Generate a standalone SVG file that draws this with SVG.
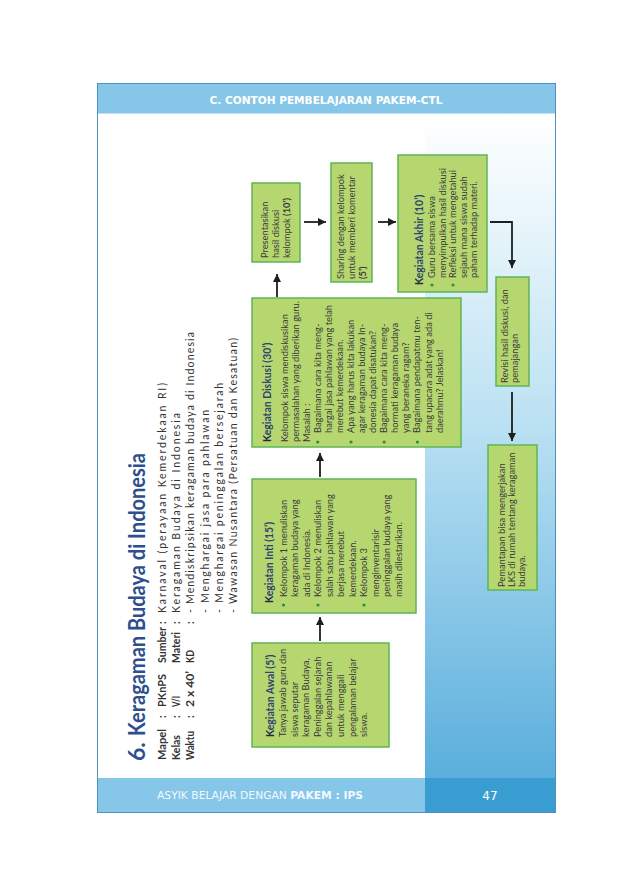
<svg xmlns="http://www.w3.org/2000/svg" width="638" height="896" viewBox="0 0 638 896">
<defs>
<linearGradient id="blueGrad" x1="0" y1="0" x2="0" y2="1">
<stop offset="0" stop-color="#ffffff"/>
<stop offset="0.15" stop-color="#eaf6fb"/>
<stop offset="0.45" stop-color="#bde2f3"/>
<stop offset="1" stop-color="#5aaedc"/>
</linearGradient>
<marker id="arr" markerUnits="userSpaceOnUse" markerWidth="9" markerHeight="8" refX="8" refY="4" orient="auto">
<path d="M0,0 L8,4 L0,8 z" fill="#1e1e1e"/>
</marker>
<style>
.box{fill:#b6d770;stroke:#5fb556;stroke-width:1.5}
.t{font-family:Lato,"Liberation Sans",sans-serif;font-size:9.3px;fill:#3a3a3a}
.h{font-family:Lato,"Liberation Sans",sans-serif;font-size:10.4px;font-weight:bold;fill:#2f4470}
.hk{fill:#1d2a4a}
.b{font-weight:bold}
.dot{fill:#2f8f3c}
.info{font-family:Lato,"Liberation Sans",sans-serif;font-size:10.5px;fill:#333333}
.lab{font-weight:bold}
.title{font-family:Lato,"Liberation Sans",sans-serif;font-size:23px;font-weight:bold;fill:#2d4f8e}
.con{stroke:#1e1e1e;stroke-width:1.8;fill:none;marker-end:url(#arr)}
</style>
</defs>
<rect x="0" y="0" width="638" height="896" fill="#ffffff"/>
<g id="page">
<rect x="425" y="115" width="131" height="663" fill="url(#blueGrad)"/>
<rect x="97.5" y="83.5" width="458" height="30" fill="#86c6e8"/>
<text x="326" y="104" text-anchor="middle" font-family="'DejaVu Sans',sans-serif" font-size="10" font-weight="bold" fill="#ffffff" textLength="233" lengthAdjust="spacingAndGlyphs">C. CONTOH PEMBELAJARAN PAKEM-CTL</text>
<rect x="97.5" y="778" width="328" height="34.5" fill="#86c6e8"/>
<rect x="425" y="778" width="131" height="34.5" fill="#3a9dd2"/>
<text x="260" y="799" text-anchor="middle" font-family="'DejaVu Sans',sans-serif" font-size="10" fill="#f2f9ff" textLength="206" lengthAdjust="spacingAndGlyphs">ASYIK BELAJAR DENGAN <tspan font-weight="bold">PAKEM : IPS</tspan></text>
<text x="490" y="800" text-anchor="middle" font-family="'DejaVu Sans',sans-serif" font-size="12" fill="#ffffff">47</text>
<rect x="97.5" y="83.5" width="458" height="729" fill="none" stroke="#4f8fb8" stroke-width="1"/>
</g>
<g id="heading" transform="rotate(-90)">
<text class="title" x="-761" y="145">6.</text>
<text class="title" x="-736" y="145" textLength="283" lengthAdjust="spacingAndGlyphs">Keragaman Budaya di Indonesia</text>
</g>
<g id="info" transform="rotate(-90)">
<text class="info lab" x="-760" y="166" textLength="31" lengthAdjust="spacingAndGlyphs">Mapel</text>
<text class="info lab" x="-718" y="166">:</text>
<text class="info lab" x="-707" y="166" textLength="33" lengthAdjust="spacingAndGlyphs">PKnPS</text>
<text class="info lab" x="-760" y="180" textLength="25" lengthAdjust="spacingAndGlyphs">Kelas</text>
<text class="info lab" x="-718" y="180">:</text>
<text class="info lab" x="-707" y="180" textLength="11" lengthAdjust="spacingAndGlyphs">V/I</text>
<text class="info lab" x="-760" y="194" textLength="29" lengthAdjust="spacingAndGlyphs">Waktu</text>
<text class="info lab" x="-718" y="194">:</text>
<text class="info lab" x="-707" y="194" textLength="36" lengthAdjust="spacingAndGlyphs">2 x 40’</text>
<text class="info lab" x="-663" y="166" textLength="36" lengthAdjust="spacingAndGlyphs">Sumber</text>
<text class="info lab" x="-624" y="166">:</text>
<text class="info" x="-613" y="166" textLength="230">Karnaval (perayaan Kemerdekaan RI)</text>
<text class="info lab" x="-663" y="180" textLength="31" lengthAdjust="spacingAndGlyphs">Materi</text>
<text class="info lab" x="-624" y="180">:</text>
<text class="info" x="-613" y="180" textLength="200">Keragaman Budaya di Indonesia</text>
<text class="info lab" x="-663" y="194" textLength="13" lengthAdjust="spacingAndGlyphs">KD</text>
<text class="info lab" x="-624" y="194">:</text>
<text class="info" x="-613" y="194" textLength="281">- Mendiskripsikan keragaman budaya di Indonesia</text>
<text class="info" x="-613" y="208.5" textLength="203">- Menghargai jasa para pahlawan</text>
<text class="info" x="-613" y="222.5" textLength="230">- Menghargai peninggalan bersejarah</text>
<text class="info" x="-613" y="237" textLength="275">- Wawasan Nusantara (Persatuan dan Kesatuan)</text>
</g>
<g id="connectors">
<line class="con" x1="320" y1="641" x2="320" y2="617"/>
<line class="con" x1="320" y1="477" x2="320" y2="453"/>
<line class="con" x1="277" y1="297" x2="277" y2="274"/>
<line class="con" x1="304" y1="222" x2="326" y2="222"/>
<line class="con" x1="378" y1="222" x2="396" y2="222"/>
<path class="con" d="M490,222 H512 V268"/>
<line class="con" x1="512" y1="392" x2="512" y2="441"/>
</g>
<g id="awal">
<rect class="box" x="252" y="643" width="137" height="104"/>
<g transform="translate(0,737) rotate(-90)">
<text class="h" x="0" y="274"><tspan class="hk">K</tspan>egiatan Awal (5’)</text>
<text class="t" x="0" y="286">Tanya jawab guru dan</text>
<text class="t" x="0" y="297.6">siswa seputar</text>
<text class="t" x="0" y="309.2">keragaman Budaya,</text>
<text class="t" x="0" y="320.8">Peninggalan sejarah</text>
<text class="t" x="0" y="332.4">dan kepahlawanan</text>
<text class="t" x="0" y="344">untuk menggali</text>
<text class="t" x="0" y="355.6">pengalaman belajar</text>
<text class="t" x="0" y="367.2">siswa.</text>
</g>
</g>
<g id="inti">
<rect class="box" x="252" y="479" width="164" height="134"/>
<g transform="translate(0,603) rotate(-90)">
<text class="h" x="0" y="273"><tspan class="hk">K</tspan>egiatan Inti (15’)</text>
<circle class="dot" cx="-2" cy="283.5" r="1.6"/>
<circle class="dot" cx="-2" cy="318" r="1.6"/>
<circle class="dot" cx="-2" cy="364" r="1.6"/>
<text class="t" x="6" y="286.5">Kelompok 1 menuliskan</text>
<text class="t" x="6" y="298">keragaman budaya yang</text>
<text class="t" x="6" y="309.5">ada di Indonesia.</text>
<text class="t" x="6" y="321">Kelompok 2 menuliskan</text>
<text class="t" x="6" y="332.5">salah satu pahlawan yang</text>
<text class="t" x="6" y="344">berjasa merebut</text>
<text class="t" x="6" y="355.5">kemerdekaan.</text>
<text class="t" x="6" y="367">Kelompok 3</text>
<text class="t" x="6" y="378.5">menginventarisir</text>
<text class="t" x="6" y="390">peninggalan budaya yang</text>
<text class="t" x="6" y="401.5">masih dilestarikan.</text>
</g>
</g>
<g id="diskusi">
<rect class="box" x="252" y="298" width="209" height="149"/>
<g transform="translate(0,442) rotate(-90)">
<text class="h" x="0" y="271"><tspan class="hk">K</tspan>egiatan Diskusi (30’)</text>
<text class="t" x="0" y="287.5">Kelompok siswa mendiskusikan</text>
<text class="t" x="0" y="298.6">permasalahan yang diberikan guru.</text>
<text class="t" x="0" y="309.6">Masalah :</text>
<circle class="dot" cx="0" cy="317.7" r="1.6"/>
<circle class="dot" cx="0" cy="351" r="1.6"/>
<circle class="dot" cx="0" cy="384.2" r="1.6"/>
<circle class="dot" cx="0" cy="417.4" r="1.6"/>
<text class="t" x="9" y="320.7">Bagaimana cara kita meng-</text>
<text class="t" x="9" y="331.8">hargai jasa pahlawan yang telah</text>
<text class="t" x="9" y="342.9">merebut kemerdekaan.</text>
<text class="t" x="9" y="354">Apa yang harus kita lakukan</text>
<text class="t" x="9" y="365">agar keragaman budaya In-</text>
<text class="t" x="9" y="376">donesia dapat disatukan?</text>
<text class="t" x="9" y="387.2">Bagaimana cara kita meng-</text>
<text class="t" x="9" y="398.3">hormati keragaman budaya</text>
<text class="t" x="9" y="409.3">yang beraneka ragam?</text>
<text class="t" x="9" y="420.4">Bagaimana pendapatmu ten-</text>
<text class="t" x="9" y="431.5">tang upacara adat yang ada di</text>
<text class="t" x="9" y="442.5">daerahmu? Jelaskan!</text>
</g>
</g>
<g id="presentasi">
<rect class="box" x="252" y="183" width="48" height="79"/>
<g transform="translate(0,258) rotate(-90)">
<text class="t" x="0" y="267.5">Presentasikan</text>
<text class="t" x="0" y="278.5">hasil diskusi</text>
<text class="t" x="0" y="289.5">kelompok <tspan class="b">(10’)</tspan></text>
</g>
</g>
<g id="sharing">
<rect class="box" x="331" y="163" width="41" height="119"/>
<g transform="translate(0,279) rotate(-90)">
<text class="t" x="0" y="343.5">Sharing dengan kelompok</text>
<text class="t" x="0" y="354.5">untuk memberi komentar</text>
<text class="t b" x="0" y="365.5">(5’)</text>
</g>
</g>
<g id="akhir">
<rect class="box" x="398" y="155" width="89" height="137"/>
<g transform="translate(0,285) rotate(-90)">
<text class="h" x="0" y="423"><tspan class="hk">K</tspan>egiatan Akhir (10’)</text>
<circle class="dot" cx="0" cy="432" r="1.6"/>
<circle class="dot" cx="0" cy="453" r="1.6"/>
<text class="t" x="7" y="435">Guru bersama siswa</text>
<text class="t" x="7" y="445.5">menyimpulkan hasil diskusi</text>
<text class="t" x="7" y="456">Refleksi untuk mengetahui</text>
<text class="t" x="7" y="466.5">sejauh mana siswa sudah</text>
<text class="t" x="7" y="477">paham terhadap materi.</text>
</g>
</g>
<g id="revisi">
<rect class="box" x="496" y="277" width="33" height="109"/>
<g transform="translate(0,383) rotate(-90)">
<text class="t" x="0" y="507.5">Revisi hasil diskusi, dan</text>
<text class="t" x="0" y="518">pemajangan</text>
</g>
</g>
<g id="pemantapan">
<rect class="box" x="488" y="445" width="49" height="145"/>
<g transform="translate(0,587) rotate(-90)">
<text class="t" x="0" y="504.5">Pemantapan bisa mengerjakan</text>
<text class="t" x="0" y="514.5">LKS di rumah tentang keragaman</text>
<text class="t" x="0" y="524.5">budaya.</text>
</g>
</g>
</svg>
